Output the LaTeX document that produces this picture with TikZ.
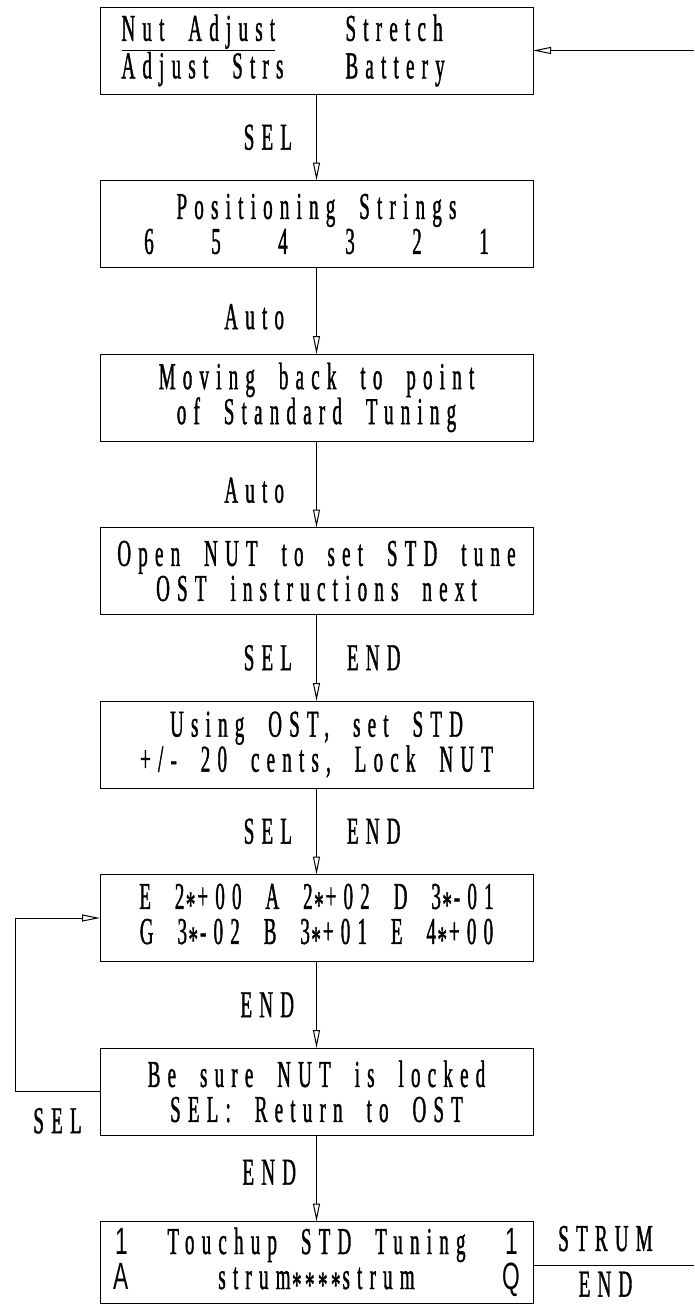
\documentclass[tikz,border=0pt]{standalone}
\usepackage{fontspec}
\newfontfamily\cadfont[FakeStretch=0.5, FakeBold=1, LetterSpace=19, WordSpace=2]{Liberation Serif}
\newfontfamily\cadthin[FakeStretch=0.6]{Liberation Sans}
\usetikzlibrary{arrows.meta, positioning}
\newcommand\cad{\cadfont\fontsize{38}{35}\selectfont}
\newcommand\cadstar{\kern1.5pt\raisebox{-0.22em}{*}\kern2pt}

\begin{document}
\begin{tikzpicture}[x=1pt, y=-1pt,
  node distance=86.5pt,
  box/.style={rectangle, draw, line width=1pt, minimum width=433pt,
    minimum height=87pt, inner sep=0pt, outer sep=0pt, align=center, font=\cad},
  lbl/.style={inner sep=0pt, font=\cad},
  arr/.style={-{Triangle[open, length=18pt, width=7pt]}, line width=1pt}
]
\useasboundingbox (0,0) rectangle (694,1304);

\node[box] (menu) at (316.5,50.5)
  {\makebox[390pt][l]{\makebox[224pt][l]{\underline{Nut Adjust}}Stretch}\\
   \makebox[390pt][l]{\makebox[224pt][l]{Adjust Strs}Battery}};
\node[box, below=of menu] (posn) {Positioning Strings\\
  \makebox[67pt]{6}\makebox[67pt]{5}\makebox[67pt]{4}%
  \makebox[67pt]{3}\makebox[67pt]{2}\makebox[67pt]{1}};
\node[box, below=of posn] (back) {Moving back to point\\of Standard Tuning};
\node[box, below=of back] (open) {Open NUT to set STD tune\\OST instructions next};
\node[box, below=of open] (ost) {Using OST, set STD\\+/- 20 cents, Lock NUT};
\node[box, below=of ost] (notes)
  {E 2\cadstar+00 A 2\cadstar+02 D 3\cadstar-01\\
   G 3\cadstar-02 B 3\cadstar+01 E 4\cadstar+00};
\node[box, below=of notes] (lock) {Be sure NUT is locked\\SEL: Return to OST};
\node[box, minimum height=82pt, below=of lock] (touch)
  {\makebox[400pt]{\makebox[10pt]{\cadthin 1}\hfill Touchup STD Tuning\hfill\makebox[10pt]{\cadthin 1}}\\
   \makebox[400pt]{\makebox[10pt]{\cadthin A}\hfill strum\cadstar\cadstar\cadstar\cadstar strum\hfill\makebox[10pt]{\cadthin Q}}};

\coordinate (ret) at (694,50.5);
\coordinate (out) at (694,1265.5);

% Arrows
\draw[arr] (ret) -- (menu);
\draw[arr] (menu) -- node[lbl, left=24pt] {SEL} (posn);
\draw[arr] (posn) -- node[lbl, left=32pt, yshift=-6pt] {Auto} (back);
\draw[arr] (back) -- node[lbl, left=32pt, yshift=-6pt] {Auto} (open);
\draw[arr] (open) -- node[lbl, left=24pt] {SEL} node[lbl, right=30pt] {END} (ost);
\draw[arr] (ost) -- node[lbl, left=24pt] {SEL} node[lbl, right=30pt] {END} (notes);
\draw[arr] (notes) -- node[lbl, left=22pt] {END} (lock);
\draw[arr] (lock) -- node[lbl, left=20pt, yshift=6pt] {END} (touch);
\draw[arr] (lock.west) -- node[lbl, below=16pt] {SEL} ++(-85,0) |- (notes.west);
\draw (touch.east |- out) -- node[lbl, above=14pt, xshift=-8pt] {STRUM}
  node[lbl, below=6pt, xshift=-8pt] {END} (out);

\end{tikzpicture}
\end{document}
